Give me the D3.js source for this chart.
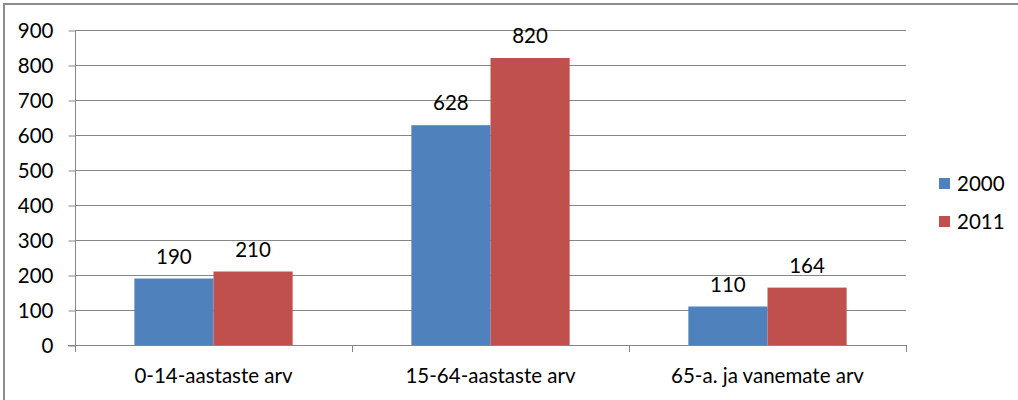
<!DOCTYPE html>
<html><head><meta charset="utf-8">
<script src="https://cdn.jsdelivr.net/npm/d3@7"></script>
<style>body{margin:0;background:#fff}svg{display:block}text{font-family:Lato,"Open Sans",sans-serif;fill:#000}</style>
</head><body><svg id="c" width="1018" height="400"></svg>
<script>
const categories = ["0-14-aastaste arv", "15-64-aastaste arv", "65-a. ja vanemate arv"];
const seriesNames = ["2000", "2011"];
const values2000 = [190, 628, 110];
const values2011 = [210, 820, 164];
const yTicks = [0, 100, 200, 300, 400, 500, 600, 700, 800, 900];
const colors = ["#4F81BD", "#C0504D"];

(function () {
const svg = d3.select("#c");
const W = 1018, H = 400;
const pL = 75, pR = 906, pT = 30, pB = 345;
const grey = "#868686";
const fs = 20.5;

// frame
svg.append("line").attr("x1", 3).attr("x2", W).attr("y1", 4).attr("y2", 4).attr("stroke", "#8c8c8c").attr("stroke-width", 2);
svg.append("line").attr("x1", 4).attr("x2", 4).attr("y1", 4).attr("y2", H).attr("stroke", "#8c8c8c").attr("stroke-width", 2);

const y = d3.scaleLinear().domain([0, 900]).range([pB, pT]);
const x = d3.scaleBand().domain(categories).range([pL, pR]).padding(0);
const bw = x.bandwidth();
const barW = bw / 3.5;
const xs = d3.scaleBand().domain(seriesNames).range([bw * 0.75 / 3.5, bw * 0.75 / 3.5 + 2 * barW]).padding(0);

// gridlines
svg.append("g").selectAll("line").data(yTicks.filter(d => d > 0)).join("line")
  .attr("x1", pL).attr("x2", pR).attr("y1", d => Math.round(y(d)) + 0.5).attr("y2", d => Math.round(y(d)) + 0.5)
  .attr("stroke", grey).attr("stroke-width", 1);

// left axis
const ya = d3.axisLeft(y).tickValues(yTicks).tickSize(7).tickPadding(15);
const gy = svg.append("g").attr("transform", `translate(${pL + 0.5},0.5)`).call(ya);
gy.select(".domain").attr("stroke", grey).attr("d", `M0,${pT}V${pB}`);
gy.selectAll(".tick line").attr("stroke", grey);
gy.selectAll(".tick text").attr("font-size", fs).attr("font-family", "Lato").attr("fill", "#000");

// bars
const data = [values2000, values2011];
seriesNames.forEach((s, si) => {
  const g = svg.append("g");
  g.selectAll("rect").data(categories).join("rect")
    .attr("x", (c) => x(c) + xs(s))
    .attr("y", (c, i) => y(data[si][i]))
    .attr("width", barW)
    .attr("height", (c, i) => pB - y(data[si][i]))
    .attr("fill", colors[si]);
  g.selectAll("text").data(categories).join("text")
    .attr("x", (c) => x(c) + xs(s) + barW / 2)
    .attr("y", (c, i) => y(data[si][i]) - 15)
    .attr("text-anchor", "middle").attr("font-size", fs)
    .text((c, i) => data[si][i]);
});

// bottom axis
const xa = d3.axisBottom(x).tickSize(0).tickPadding(23);
const gx = svg.append("g").attr("transform", `translate(0,${pB + 0.5})`).call(xa);
gx.select(".domain").attr("stroke", grey).attr("d", `M${pL - 7},0H${pR}`);
gx.selectAll(".tick text").attr("font-size", fs).attr("font-family", "Lato").attr("fill", "#000");
const bounds = categories.map(c => x(c)).concat([pR]);
svg.append("g").selectAll("line").data(bounds).join("line")
  .attr("x1", d => Math.round(d) + 0.5).attr("x2", d => Math.round(d) + 0.5)
  .attr("y1", pB).attr("y2", pB + 7).attr("stroke", grey);

// legend
const lg = svg.append("g");
seriesNames.forEach((s, i) => {
  const ly = 178 + i * 38;
  lg.append("rect").attr("x", 939).attr("y", ly).attr("width", 11).attr("height", 11).attr("fill", colors[i]);
  lg.append("text").attr("x", 957).attr("y", ly + 5.5).attr("dy", "0.35em").attr("font-size", fs).text(s);
});
})();
</script></body></html>
